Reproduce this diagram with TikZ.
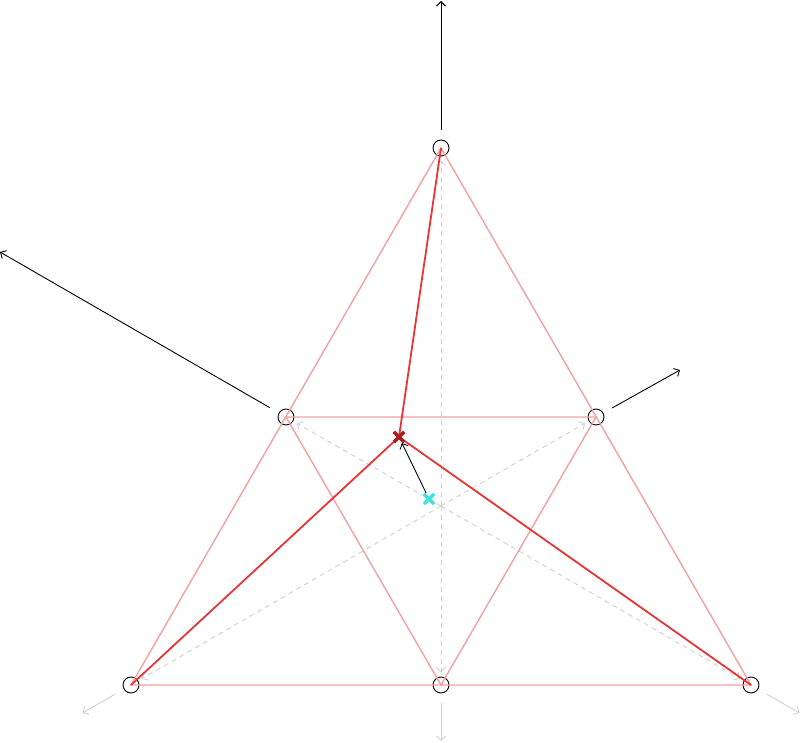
\documentclass[tikz,border=0pt]{standalone}
\usetikzlibrary{arrows.meta,shapes.misc,calc}

\definecolor{pinkline}{RGB}{244,160,160}
\definecolor{redline}{RGB}{232,52,52}
\definecolor{darkred}{RGB}{170,32,32}
\definecolor{cyanmark}{RGB}{60,228,228}
\definecolor{greyline}{RGB}{208,208,208}

\begin{document}
\begin{tikzpicture}[x=1pt,y=1pt,
    >={Straight Barb[length=4.5pt,width=9pt]},
    site/.style={circle,draw=black,line width=0.9pt,minimum size=16pt,inner sep=0pt},
    crossmark/.style={cross out,draw=#1,line width=3.2pt,minimum size=7pt,inner sep=0pt},
    triedge/.style={pinkline,line width=1.4pt},
    bond/.style={redline,line width=1.8pt},
    guide/.style={greyline,line width=0.9pt,dash pattern=on 5pt off 4pt,->,shorten >=4pt},
    outward/.style={greyline,line width=0.9pt,->},
    force/.style={black,line width=0.9pt,->}]

\useasboundingbox (0,0) rectangle (800,742);

%sommets

\node[site] (T) at (441,594) {};
\node[site] (L) at (286,325) {};
\node[site] (R) at (596,325) {};
\node[site] (BL) at (131,57) {};
\node[site] (BM) at (441,57) {};
\node[site] (BR) at (751,57) {};
\coordinate (C) at (441,236);

%guides

\foreach \s in {T,L,R,BL,BM,BR}
    \draw[guide] (C) -- (\s);

\draw[outward] ($(BL)+(210:18)$) -- ($(BL)+(210:56)$);
\draw[outward] ($(BM)+(270:18)$) -- ($(BM)+(270:56)$);
\draw[outward] ($(BR)+(330:18)$) -- ($(BR)+(330:56)$);

%arêtes

\draw[triedge] (T.center) -- (BL.center) -- (BR.center) -- cycle;
\draw[triedge] (L.center) -- (R.center) -- (BM.center) -- cycle;

%liaisons

\node[crossmark=darkred] (X) at (399,305) {};
\node[crossmark=cyanmark] (K) at (429,243) {};
\draw[bond] (T.center) -- (X.center);
\draw[bond] (BL.center) -- (X.center);
\draw[bond] (BR.center) -- (X.center);
\node[crossmark=darkred] at (X) {};
\draw[force, shorten <=1pt, shorten >=1pt] (K) -- (X);

%forces

\coordinate (Ttip) at (441,741);
\coordinate (Ltip) at (0,490);
\coordinate (Rtip) at (680,372);
\draw[force, shorten <=10pt] (T) -- (Ttip);
\draw[force, shorten <=10pt] (L) -- (Ltip);
\draw[force, shorten <=10pt] (R) -- (Rtip);
\end{tikzpicture}
\end{document}
